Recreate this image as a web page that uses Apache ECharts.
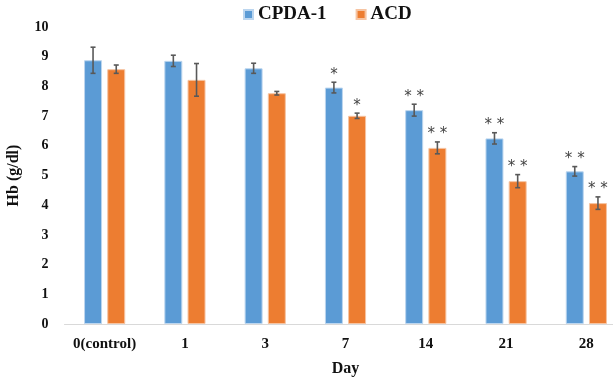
<!DOCTYPE html>
<html><head><meta charset="utf-8">
<script src="https://cdn.jsdelivr.net/npm/echarts@6/dist/echarts.min.js"></script>
<style>html,body{margin:0;padding:0;background:#fff;overflow:hidden}#c{width:613px;height:379px}</style>
</head><body><div id="c"></div>
<script>
const categories = ['0(control)', '1', '3', '7', '14', '21', '28'];
const cpdaValues = [8.88, 8.86, 8.61, 7.96, 7.20, 6.25, 5.14];
const cpdaErrors = [0.44, 0.19, 0.17, 0.18, 0.20, 0.19, 0.16];
const acdValues = [8.58, 8.22, 7.77, 7.01, 5.93, 4.81, 4.07];
const acdErrors = [0.14, 0.55, 0.06, 0.09, 0.20, 0.22, 0.21];
const cpdaMarks = ['', '', '', '*', '**', '**', '**'];
const acdMarks = ['', '', '', '*', '**', '**', '**'];
const yTicks = [0, 1, 2, 3, 4, 5, 6, 7, 8, 9, 10];

const BW = 0.224, GAP = 0.29;
const serif = '"Liberation Serif", "DejaVu Serif", serif';

function errSeries(name, vals, errs, marks, side) {
  return {
    type: 'custom', name: name + '_err', silent: true, z: 5,
    data: vals.map((v, i) => [i, v, errs[i]]),
    renderItem: function (params, api) {
      const i = api.value(0), v = api.value(1), e = api.value(2);
      const mark = marks[i];
      const band = api.size([1, 0])[0];
      const w = band * BW;
      const off = side * (w + w * GAP) / 2;
      const top = api.coord([i, v + e]);
      const bot = api.coord([i, v - e]);
      const x = top[0] + off;
      const cap = 2.5;
      const st = { stroke: '#595959', lineWidth: 1.6 };
      const children = [
        { type: 'line', shape: { x1: x, y1: top[1], x2: x, y2: bot[1] }, style: st },
        { type: 'line', shape: { x1: x - cap, y1: top[1], x2: x + cap, y2: top[1] }, style: st },
        { type: 'line', shape: { x1: x - cap, y1: bot[1], x2: x + cap, y2: bot[1] }, style: st }
      ];
      if (mark) {
        children.push({ type: 'text', style: { text: mark.split('').join(' '), x: x, y: top[1] - 7.5, align: 'center', verticalAlign: 'middle', fill: '#444444', font: '15px "DejaVu Sans", sans-serif' } });
      }
      return { type: 'group', children: children };
    }
  };
}

const chart = echarts.init(document.getElementById('c'));
chart.setOption({
  animation: false,
  legend: {
    top: 0, left: 238, itemWidth: 9, itemHeight: 9, itemGap: 29,
    icon: 'rect',
    data: ['CPDA-1', 'ACD'],
    textStyle: { fontFamily: serif, fontWeight: 'bold', fontSize: 19, color: '#111' }
  },
  grid: { left: 64.5, right: -13.5, top: 27, bottom: 55, containLabel: false, outerBoundsMode: 'none' },
  xAxis: {
    type: 'category', data: categories,
    name: 'Day', nameLocation: 'middle', nameGap: 37,
    nameTextStyle: { fontFamily: serif, fontWeight: 'bold', fontSize: 16, color: '#111' },
    axisLine: { lineStyle: { color: '#d9d9d9', width: 1 } },
    axisTick: { show: false },
    axisLabel: { interval: 0, fontFamily: serif, fontWeight: 'bold', fontSize: 15, color: '#111', margin: 13 }
  },
  yAxis: {
    type: 'value', min: 0, max: 10, interval: 1,
    name: 'Hb (g/dl)', nameLocation: 'middle', nameGap: 43,
    nameTextStyle: { fontFamily: serif, fontWeight: 'bold', fontSize: 16, color: '#111' },
    axisLine: { show: false }, axisTick: { show: false }, splitLine: { show: false },
    axisLabel: { fontFamily: serif, fontWeight: 'bold', fontSize: 14, color: '#111', margin: 16,
      formatter: v => yTicks.includes(v) ? String(v) : '' }
  },
  series: [
    { name: 'CPDA-1', type: 'bar', data: cpdaValues, barWidth: (BW * 100) + '%', barGap: (GAP * 100) + '%',
      itemStyle: { color: '#5B9BD5', borderColor: '#bcd6ef', borderWidth: 1 } },
    { name: 'ACD', type: 'bar', data: acdValues, barWidth: (BW * 100) + '%', barGap: (GAP * 100) + '%',
      itemStyle: { color: '#ED7D31', borderColor: '#f6c4a2', borderWidth: 1 } },
    errSeries('CPDA-1', cpdaValues, cpdaErrors, cpdaMarks, -1),
    errSeries('ACD', acdValues, acdErrors, acdMarks, 1)
  ]
});
</script></body></html>
